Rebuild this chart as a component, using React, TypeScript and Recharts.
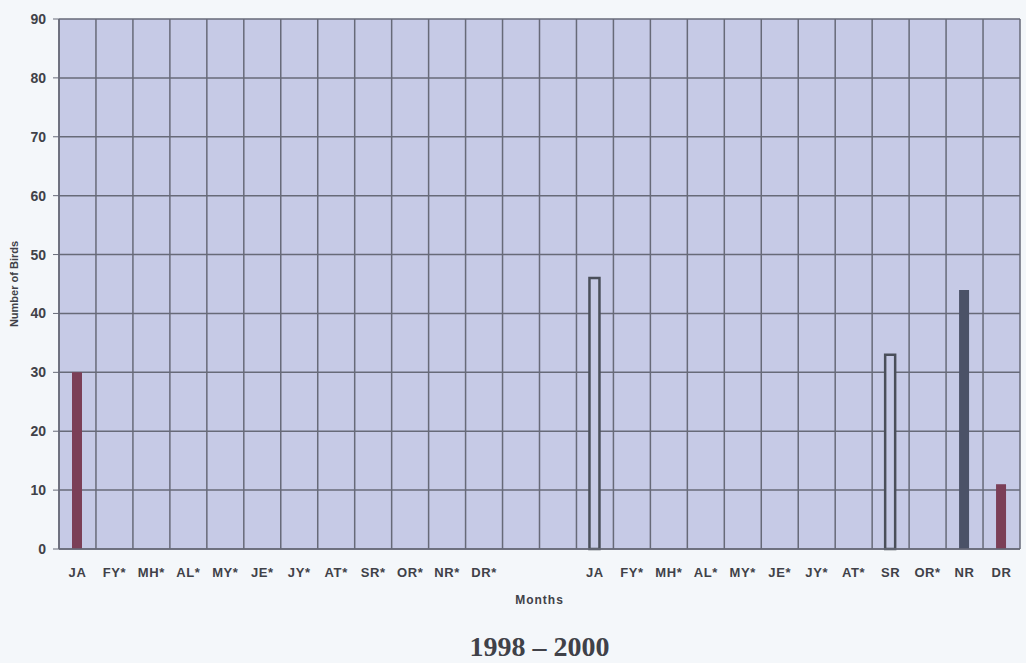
import { BarChart, Bar, XAxis, YAxis, CartesianGrid } from 'recharts';

document.body.style.margin = '0';

// 1998 months, two empty gap slots, then 2000 months
const months = [
  'JA', 'FY*', 'MH*', 'AL*', 'MY*', 'JE*', 'JY*', 'AT*', 'SR*', 'OR*', 'NR*', 'DR*',
  '', '',
  'JA', 'FY*', 'MH*', 'AL*', 'MY*', 'JE*', 'JY*', 'AT*', 'SR', 'OR*', 'NR', 'DR',
];

// birds counted, split by how the bar is drawn in the original
const maroonBirds = [
  30, null, null, null, null, null, null, null, null, null, null, null,
  null, null,
  null, null, null, null, null, null, null, null, null, null, null, 11,
];
const outlineBirds = [
  null, null, null, null, null, null, null, null, null, null, null, null,
  null, null,
  46, null, null, null, null, null, null, null, 33, null, null, null,
];
const slateBirds = [
  null, null, null, null, null, null, null, null, null, null, null, null,
  null, null,
  null, null, null, null, null, null, null, null, null, null, 44, null,
];

const yTicks = [0, 10, 20, 30, 40, 50, 60, 70, 80, 90];

const data = months.map((month, i) => ({
  month,
  maroon: maroonBirds[i],
  outline: outlineBirds[i],
  slate: slateBirds[i],
}));

const PLOT_BG = '#c6cae6';
const GRID = '#676a78';
const TEXT = '#404148';
const SANS = 'Liberation Sans, Arial, sans-serif';

export default function App() {
  return (
    <div style={{ position: 'relative', width: 1026, height: 663, background: '#f4f7fa' }}>
      <BarChart
        width={1026}
        height={663}
        data={data}
        margin={{ top: 19, right: 6, left: 0, bottom: 0 }}
      >
        <CartesianGrid
          fill={PLOT_BG}
          fillOpacity={1}
          stroke={GRID}
          strokeWidth={1.5}
          verticalCoordinatesGenerator={({ offset }: any) =>
            Array.from({ length: months.length + 1 }, (_, i) => offset.left + (i * offset.width) / months.length)
          }
        />
        <XAxis
          dataKey="month"
          height={114}
          tickLine={false}
          tickSize={0}
          tickMargin={19}
          axisLine={{ stroke: GRID, strokeWidth: 1.5 }}
          interval={0}
          tick={{ fill: TEXT, fontSize: 13, fontWeight: 700, fontFamily: SANS, letterSpacing: 0.6 }}
          label={{
            value: 'Months',
            position: 'insideTop',
            offset: 46,
            fill: TEXT,
            fontSize: 12,
            fontWeight: 700,
            fontFamily: SANS,
            letterSpacing: 1,
          }}
        />
        <YAxis
          width={59}
          domain={[0, 90]}
          ticks={yTicks}
          interval={0}
          tickSize={6}
          tickMargin={7}
          axisLine={{ stroke: GRID, strokeWidth: 1.5 }}
          tickLine={{ stroke: GRID }}
          tick={{ fill: TEXT, fontSize: 14, fontWeight: 700, fontFamily: SANS }}
          label={{
            content: ({ viewBox }: any) => {
              const x = viewBox.x + 18;
              const y = viewBox.y + viewBox.height / 2;
              return (
                <text
                  x={x}
                  y={y}
                  transform={`rotate(-90, ${x}, ${y})`}
                  textAnchor="middle"
                  fill={TEXT}
                  fontSize={11}
                  fontWeight={700}
                  fontFamily={SANS}
                >
                  Number of Birds
                </text>
              );
            },
          }}
        />
        <Bar dataKey="maroon" stackId="s" barSize={10} fill="#7b3f57" isAnimationActive={false} />
        <Bar
          dataKey="outline"
          stackId="s"
          barSize={9}
          fill={PLOT_BG}
          stroke="#4a4f5a"
          strokeWidth={2.5}
          isAnimationActive={false}
        />
        <Bar dataKey="slate" stackId="s" barSize={10} fill="#4b5267" isAnimationActive={false} />
      </BarChart>
      <div
        style={{
          position: 'absolute',
          left: 59,
          width: 961,
          top: 633,
          textAlign: 'center',
          fontFamily: 'Liberation Serif, Times New Roman, serif',
          fontWeight: 700,
          fontSize: 28,
          lineHeight: '28px',
          color: TEXT,
        }}
      >
        1998 – 2000
      </div>
    </div>
  );
}
